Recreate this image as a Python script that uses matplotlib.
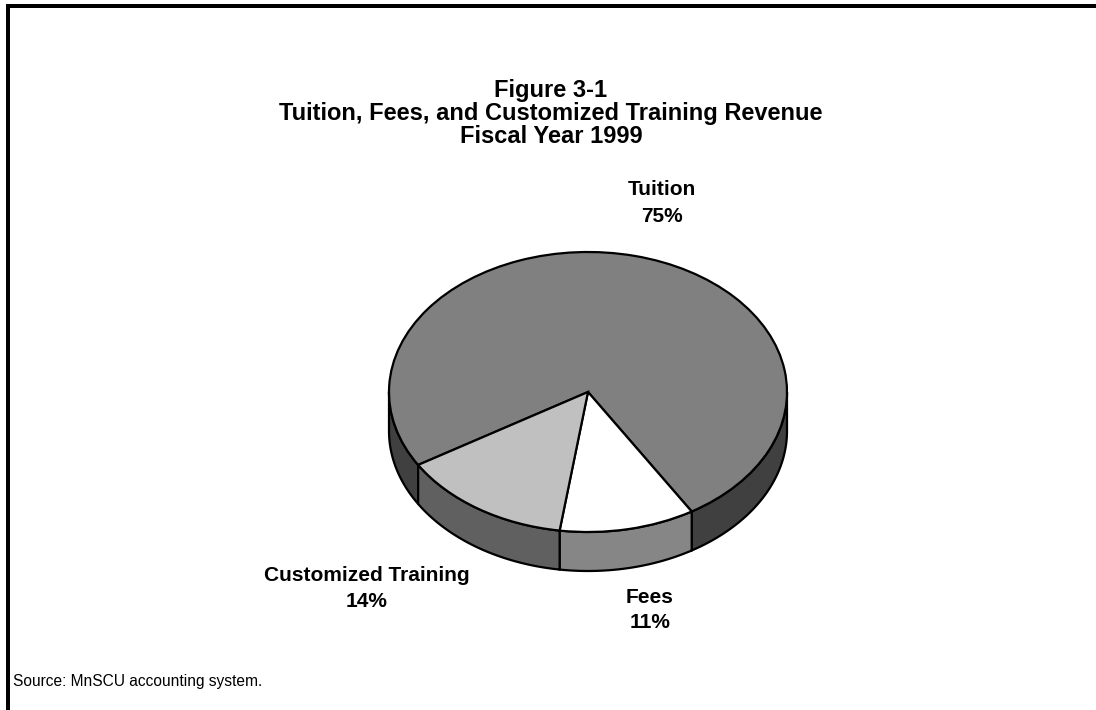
import numpy as np
import matplotlib
matplotlib.use("Agg")
import matplotlib.pyplot as plt
from matplotlib.patches import Polygon
from matplotlib.lines import Line2D

# ---- data ----
categories = ["Tuition", "Fees", "Customized Training"]
shares = [75, 11, 14]
top_colors = ["#808080", "#ffffff", "#c0c0c0"]
side_colors = ["#404040", "#868686", "#606060"]
title_lines = ["Figure 3-1",
               "Tuition, Fees, and Customized Training Revenue",
               "Fiscal Year 1999"]
source_text = "Source: MnSCU accounting system."

# ---- layout (pixels) ----
W, H = 1096, 710
cx, cy = 588, 392          # pie centre
ra, rb = 199, 140          # ellipse semi-axes
depth_px = 39
label_pos = {"Tuition": (662, 195, 222),
             "Fees": (650, 603, 628),
             "Customized Training": (367, 581, 607)}

plt.rcParams['font.family'] = ['Liberation Sans', 'DejaVu Sans']
fig = plt.figure(figsize=(W / 100, H / 100), dpi=100)
ax = fig.add_axes([0, 0, 1, 1])

wedges, _ = ax.pie(shares, colors=top_colors, startangle=211.4,
                   counterclock=False, radius=1.0, center=(0, 0),
                   wedgeprops=dict(edgecolor="black", linewidth=1.6,
                                   zorder=3))
ax.set_aspect('auto')
ax.set_xlim(-cx / ra, (W - cx) / ra)
ax.set_ylim(-(H - cy) / rb, cy / rb)
ax.axis('off')

d = depth_px / rb
for w, sc in zip(wedges, side_colors):
    t1, t2 = w.theta1, w.theta2
    for k in (-360, 0, 360):
        lo, hi = max(t1, -180 + k), min(t2, k)
        if hi - lo <= 0.01:
            continue
        t = np.radians(np.linspace(lo, hi, 200))
        top = np.column_stack([np.cos(t), np.sin(t)])
        bot = np.column_stack([np.cos(t[::-1]), np.sin(t[::-1]) - d])
        ax.add_patch(Polygon(np.vstack([top, bot]), closed=True,
                             facecolor=sc, edgecolor="black",
                             linewidth=1.6, zorder=2))

# title
for txt, base in zip(title_lines, [97, 120, 143]):
    fig.text(551 / W, 1 - base / H, txt, ha='center', va='baseline',
             fontsize=17, fontweight='bold')

# labels
for name, val in zip(categories, shares):
    x, y1, y2 = label_pos[name]
    fig.text(x / W, 1 - y1 / H, name, ha='center', va='baseline',
             fontsize=15, fontweight='bold')
    fig.text(x / W, 1 - y2 / H, f"{val}%", ha='center', va='baseline',
             fontsize=15, fontweight='bold')

fig.text(13 / W, 1 - 686 / H, source_text, ha='left', va='baseline',
         fontsize=11.2)

# frame lines (top and left)
lw = 4 * 72 / 100
fig.add_artist(Line2D([6 / W, 1], [1 - 6 / H, 1 - 6 / H], color='black',
                      linewidth=lw, transform=fig.transFigure,
                      solid_capstyle='butt'))
fig.add_artist(Line2D([8 / W, 8 / W], [1 - 4 / H, 0], color='black',
                      linewidth=lw, transform=fig.transFigure,
                      solid_capstyle='butt'))

fig.savefig("out.png", dpi=100)
